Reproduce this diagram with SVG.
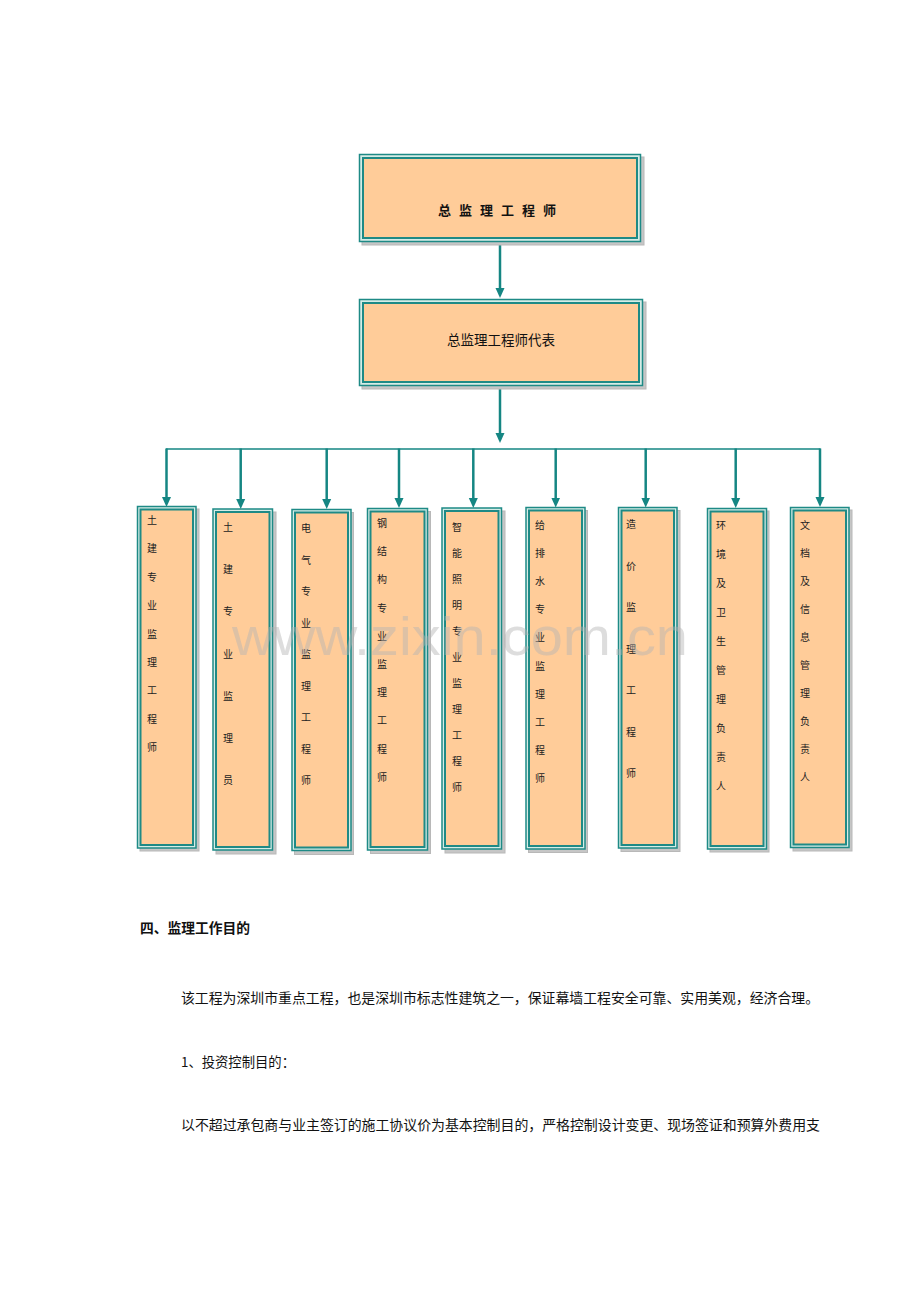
<svg xmlns="http://www.w3.org/2000/svg" width="920" height="1302" viewBox="0 0 920 1302">
<style>
.sh{fill:#c6c6c6;stroke:#b8b8b8;stroke-width:1}
.o{fill:#d6ece6;stroke:#1e8a86;stroke-width:1.5}
.i{fill:#ffcc99;stroke:#1e8a86;stroke-width:2}
.c{stroke:#158683;stroke-width:2.5;fill:none}
.h{stroke:#158683;stroke-width:1.5;fill:none}
.v{font-family:"Noto Sans CJK SC","Noto Sans",sans-serif;font-size:10px;fill:#222;text-anchor:middle}
.t{font-family:"Noto Sans CJK SC","Noto Sans",sans-serif;fill:#111}
</style>
<defs>
<marker id="ah" markerWidth="10" markerHeight="10" refX="1" refY="5" orient="auto" markerUnits="userSpaceOnUse">
<path d="M0,0.5 L10,5 L0,9.5 z" fill="#158683"/>
</marker>
</defs>
<rect width="920" height="1302" fill="#ffffff"/>

<g id="connectors">
<line class="c" x1="500" y1="243" x2="500" y2="289" marker-end="url(#ah)"/>
<line class="c" x1="500" y1="387" x2="500" y2="434" marker-end="url(#ah)"/>
<line class="h" x1="166" y1="449" x2="820.5" y2="449"/>
<line class="c" x1="166.5" y1="448.5" x2="166.5" y2="498" marker-end="url(#ah)"/>
<line class="c" x1="240.7" y1="448.5" x2="240.7" y2="500" marker-end="url(#ah)"/>
<line class="c" x1="326.7" y1="448.5" x2="326.7" y2="500" marker-end="url(#ah)"/>
<line class="c" x1="399" y1="448.5" x2="399" y2="499" marker-end="url(#ah)"/>
<line class="c" x1="473.3" y1="448.5" x2="473.3" y2="499" marker-end="url(#ah)"/>
<line class="c" x1="555.7" y1="448.5" x2="555.7" y2="498.5" marker-end="url(#ah)"/>
<line class="c" x1="645.7" y1="448.5" x2="645.7" y2="498.5" marker-end="url(#ah)"/>
<line class="c" x1="735.7" y1="448.5" x2="735.7" y2="499" marker-end="url(#ah)"/>
<line class="c" x1="820" y1="448.5" x2="820" y2="498" marker-end="url(#ah)"/>
</g>

<g id="n-chief">
<rect class="sh" x="362" y="157" width="282" height="88"/>
<rect class="o" x="359.5" y="154.5" width="281" height="87"/>
<rect class="i" x="363" y="158" width="274" height="80"/>
<text class="t" x="501" y="215" font-size="13" font-weight="bold" text-anchor="middle" letter-spacing="8">总监理工程师</text>
</g>

<g id="n-rep">
<rect class="sh" x="362" y="302" width="284" height="87"/>
<rect class="o" x="359.5" y="299.5" width="283" height="86"/>
<rect class="i" x="363" y="303" width="276" height="79"/>
<text class="t" x="501" y="345" font-size="13.5" text-anchor="middle" fill="#333">总监理工程师代表</text>
</g>

<g id="n1">
<rect class="sh" x="140" y="509" width="59" height="342"/>
<rect class="o" x="137.5" y="506.5" width="58.5" height="341.5"/>
<rect class="i" x="140.5" y="509.5" width="52.5" height="335.5"/>
<text class="v"><tspan x="152" y="524">土</tspan><tspan x="152" y="552.4">建</tspan><tspan x="152" y="580.8">专</tspan><tspan x="152" y="609.2">业</tspan><tspan x="152" y="637.6">监</tspan><tspan x="152" y="666">理</tspan><tspan x="152" y="694.4">工</tspan><tspan x="152" y="722.8">程</tspan><tspan x="152" y="751.2">师</tspan></text>
</g>

<g id="n2">
<rect class="sh" x="216" y="512" width="60" height="342"/>
<rect class="o" x="213" y="509" width="59.5" height="341"/>
<rect class="i" x="216" y="512" width="53.5" height="335"/>
<text class="v"><tspan x="228" y="531">土</tspan><tspan x="228" y="573.2">建</tspan><tspan x="228" y="615.4">专</tspan><tspan x="228" y="657.6">业</tspan><tspan x="228" y="699.8">监</tspan><tspan x="228" y="742">理</tspan><tspan x="228" y="784.2">员</tspan></text>
</g>

<g id="n3">
<rect class="sh" x="294.5" y="512.5" width="59" height="342"/>
<rect class="o" x="292" y="509.5" width="59" height="341"/>
<rect class="i" x="295" y="512.5" width="53" height="335"/>
<text class="v"><tspan x="306" y="532">电</tspan><tspan x="306" y="563.5">气</tspan><tspan x="306" y="595">专</tspan><tspan x="306" y="626.5">业</tspan><tspan x="306" y="658">监</tspan><tspan x="306" y="689.5">理</tspan><tspan x="306" y="721">工</tspan><tspan x="306" y="752.5">程</tspan><tspan x="306" y="784">师</tspan></text>
</g>

<g id="n4">
<rect class="sh" x="370.5" y="511.5" width="60" height="342"/>
<rect class="o" x="367.5" y="508.5" width="60" height="341.5"/>
<rect class="i" x="370.5" y="511.5" width="54" height="335.5"/>
<text class="v"><tspan x="382" y="527">钢</tspan><tspan x="382" y="555.2">结</tspan><tspan x="382" y="583.4">构</tspan><tspan x="382" y="611.6">专</tspan><tspan x="382" y="639.8">业</tspan><tspan x="382" y="668">监</tspan><tspan x="382" y="696.2">理</tspan><tspan x="382" y="724.4">工</tspan><tspan x="382" y="752.6">程</tspan><tspan x="382" y="780.8">师</tspan></text>
</g>

<g id="n5">
<rect class="sh" x="445" y="511" width="60" height="342"/>
<rect class="o" x="442" y="508" width="59.5" height="341"/>
<rect class="i" x="445" y="511" width="53.5" height="335"/>
<text class="v"><tspan x="457" y="531">智</tspan><tspan x="457" y="557">能</tspan><tspan x="457" y="583">照</tspan><tspan x="457" y="609">明</tspan><tspan x="457" y="635">专</tspan><tspan x="457" y="661">业</tspan><tspan x="457" y="687">监</tspan><tspan x="457" y="713">理</tspan><tspan x="457" y="739">工</tspan><tspan x="457" y="765">程</tspan><tspan x="457" y="791">师</tspan></text>
</g>

<g id="n6">
<rect class="sh" x="528.5" y="510.5" width="59" height="342"/>
<rect class="o" x="526" y="507.5" width="59" height="341.5"/>
<rect class="i" x="529" y="510.5" width="53" height="335.5"/>
<text class="v"><tspan x="540" y="529">给</tspan><tspan x="540" y="557.1">排</tspan><tspan x="540" y="585.2">水</tspan><tspan x="540" y="613.3">专</tspan><tspan x="540" y="641.4">业</tspan><tspan x="540" y="669.5">监</tspan><tspan x="540" y="697.6">理</tspan><tspan x="540" y="725.7">工</tspan><tspan x="540" y="753.8">程</tspan><tspan x="540" y="781.9">师</tspan></text>
</g>

<g id="n7">
<rect class="sh" x="621" y="510.5" width="59" height="341"/>
<rect class="o" x="618.5" y="507.5" width="58.5" height="340.5"/>
<rect class="i" x="621.5" y="510.5" width="52.5" height="334.5"/>
<text class="v"><tspan x="631" y="528">造</tspan><tspan x="631" y="569.5">价</tspan><tspan x="631" y="611">监</tspan><tspan x="631" y="652.5">理</tspan><tspan x="631" y="694">工</tspan><tspan x="631" y="735.5">程</tspan><tspan x="631" y="777">师</tspan></text>
</g>

<g id="n8">
<rect class="sh" x="710" y="511" width="59" height="341"/>
<rect class="o" x="707.5" y="508.5" width="59" height="340.5"/>
<rect class="i" x="710.5" y="511.5" width="53" height="334.5"/>
<text class="v"><tspan x="721" y="529">环</tspan><tspan x="721" y="558">境</tspan><tspan x="721" y="587">及</tspan><tspan x="721" y="616">卫</tspan><tspan x="721" y="645">生</tspan><tspan x="721" y="674">管</tspan><tspan x="721" y="703">理</tspan><tspan x="721" y="732">负</tspan><tspan x="721" y="761">责</tspan><tspan x="721" y="790">人</tspan></text>
</g>

<g id="n9">
<rect class="sh" x="793" y="510" width="59" height="341"/>
<rect class="o" x="790.5" y="507.5" width="58.5" height="340"/>
<rect class="i" x="793.5" y="510.5" width="52.5" height="334"/>
<text class="v"><tspan x="805" y="529">文</tspan><tspan x="805" y="557">档</tspan><tspan x="805" y="585">及</tspan><tspan x="805" y="613">信</tspan><tspan x="805" y="641">息</tspan><tspan x="805" y="669">管</tspan><tspan x="805" y="697">理</tspan><tspan x="805" y="725">负</tspan><tspan x="805" y="753">责</tspan><tspan x="805" y="781">人</tspan></text>
</g>

<g id="watermark">
<text x="232" y="655" font-family="Liberation Sans, Arial, sans-serif" font-size="54" fill="#b4b4b4" fill-opacity="0.45" textLength="456" lengthAdjust="spacingAndGlyphs">www.zixin.com.cn</text>
</g>

<g id="body-text">
<text class="t" x="140" y="933" font-size="13.5" font-weight="bold" textLength="110" lengthAdjust="spacingAndGlyphs">四、监理工作目的</text>
<text class="t" x="181" y="1003" font-size="13.5" fill="#222" textLength="638" lengthAdjust="spacingAndGlyphs">该工程为深圳市重点工程，也是深圳市标志性建筑之一，保证幕墙工程安全可靠、实用美观，经济合理。</text>
<text class="t" x="181" y="1067" font-size="13.5" fill="#222" textLength="114" lengthAdjust="spacingAndGlyphs">1、投资控制目的：</text>
<text class="t" x="181" y="1130" font-size="13.5" fill="#222" textLength="639" lengthAdjust="spacingAndGlyphs">以不超过承包商与业主签订的施工协议价为基本控制目的，严格控制设计变更、现场签证和预算外费用支</text>
</g>
</svg>
